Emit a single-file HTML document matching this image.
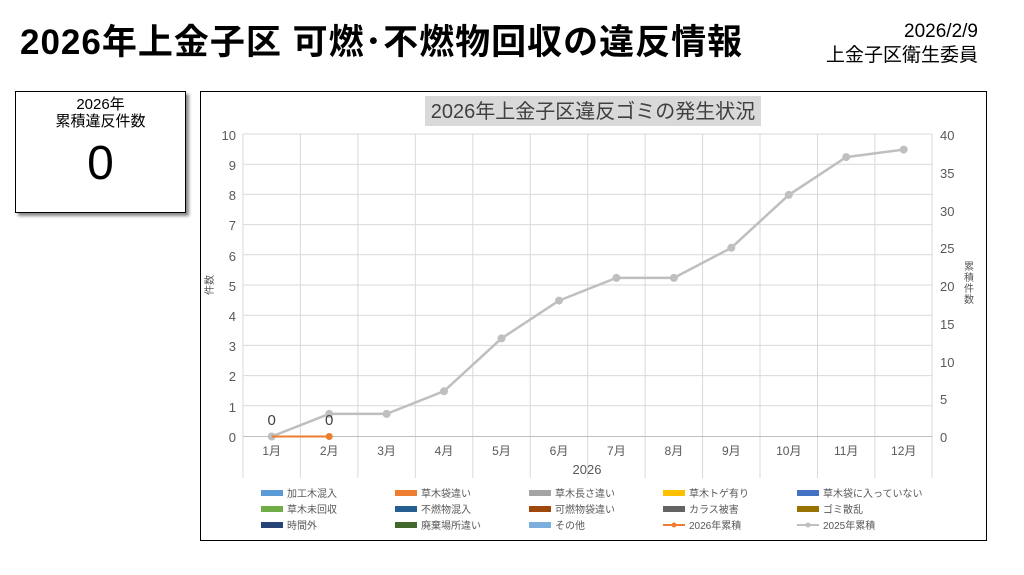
<!DOCTYPE html>
<html><head><meta charset="utf-8"><style>
body{margin:0;width:1024px;height:575px;background:#fff;font-family:"Liberation Sans","Noto Sans CJK JP",sans-serif;position:relative;overflow:hidden}
.t{position:absolute;left:20px;top:14px;font-size:35px;font-weight:bold;color:#000;letter-spacing:1px}
.d{position:absolute;right:46px;top:20px;font-size:19px;text-align:right;line-height:24px;color:#000}
.box{position:absolute;left:15px;top:91px;width:169px;height:120px;border:1px solid #000;box-shadow:3px 3px 3px #888;text-align:center;background:#fff}
</style></head><body>
<div class="t">2026年上金子区 可燃･不燃物回収の違反情報</div>
<div class="d">2026/2/9<br>上金子区衛生委員</div>
<div class="box"><div style="font-size:15px;line-height:17px;margin-top:4px">2026年<br>累積違反件数</div><div style="font-size:48px;margin-top:6px">0</div></div>
<svg style="position:absolute;left:0;top:0" width="1024" height="575" font-family="Liberation Sans, Noto Sans CJK JP, sans-serif">
<rect x="200.5" y="91.5" width="786" height="449" fill="#fff" stroke="#000"/>
<rect x="425" y="96" width="336" height="30" fill="#d9d9d9"/>
<text x="593" y="118" font-size="20" fill="#404040" text-anchor="middle">2026年上金子区違反ゴミの発生状況</text>
<g stroke="#d9d9d9" stroke-width="1">
<line x1="243" y1="134" x2="932" y2="134"/><line x1="243" y1="164.2" x2="932" y2="164.2"/><line x1="243" y1="194.4" x2="932" y2="194.4"/><line x1="243" y1="224.6" x2="932" y2="224.6"/><line x1="243" y1="254.8" x2="932" y2="254.8"/><line x1="243" y1="285" x2="932" y2="285"/><line x1="243" y1="315.2" x2="932" y2="315.2"/><line x1="243" y1="345.4" x2="932" y2="345.4"/><line x1="243" y1="375.6" x2="932" y2="375.6"/><line x1="243" y1="405.8" x2="932" y2="405.8"/>
<line x1="243" y1="134" x2="243" y2="478"/><line x1="300.4" y1="134" x2="300.4" y2="478"/><line x1="357.9" y1="134" x2="357.9" y2="478"/><line x1="415.3" y1="134" x2="415.3" y2="478"/><line x1="472.8" y1="134" x2="472.8" y2="478"/><line x1="530.2" y1="134" x2="530.2" y2="478"/><line x1="587.7" y1="134" x2="587.7" y2="478"/><line x1="645.1" y1="134" x2="645.1" y2="478"/><line x1="702.6" y1="134" x2="702.6" y2="478"/><line x1="760" y1="134" x2="760" y2="478"/><line x1="817.5" y1="134" x2="817.5" y2="478"/><line x1="874.9" y1="134" x2="874.9" y2="478"/><line x1="932" y1="134" x2="932" y2="478"/>
<line x1="243" y1="436.5" x2="932" y2="436.5" stroke="#bfbfbf"/>
</g>
<g font-size="13" fill="#595959" text-anchor="end">
<text x="236" y="140">10</text><text x="236" y="170">9</text><text x="236" y="200">8</text><text x="236" y="230">7</text><text x="236" y="261">6</text><text x="236" y="291">5</text><text x="236" y="321">4</text><text x="236" y="351">3</text><text x="236" y="381">2</text><text x="236" y="412">1</text><text x="236" y="442">0</text>
</g>
<g font-size="13" fill="#595959" text-anchor="start">
<text x="940" y="140">40</text><text x="940" y="178">35</text><text x="940" y="216">30</text><text x="940" y="253">25</text><text x="940" y="291">20</text><text x="940" y="329">15</text><text x="940" y="367">10</text><text x="940" y="404">5</text><text x="940" y="442">0</text>
</g>
<text x="213" y="285" font-size="10" fill="#595959" transform="rotate(-90 213 285)" text-anchor="middle">件数</text>
<g font-size="10" fill="#595959" text-anchor="middle"><text x="969" y="270">累</text><text x="969" y="281">積</text><text x="969" y="292">件</text><text x="969" y="303">数</text></g>
<g font-size="12" fill="#595959" text-anchor="middle">
<text x="271.7" y="455">1月</text><text x="329.2" y="455">2月</text><text x="386.6" y="455">3月</text><text x="444" y="455">4月</text><text x="501.5" y="455">5月</text><text x="559" y="455">6月</text><text x="616.4" y="455">7月</text><text x="673.9" y="455">8月</text><text x="731.3" y="455">9月</text><text x="788.8" y="455">10月</text><text x="846.2" y="455">11月</text><text x="903.7" y="455">12月</text>
<text x="587" y="474" font-size="13">2026</text>
</g>
<polyline fill="none" stroke="#bfbfbf" stroke-width="2.5" points="271.7,436.5 329.2,413.9 386.6,413.9 444,391.2 501.5,338.4 559,300.6 616.4,277.9 673.9,277.9 731.3,247.8 788.8,194.9 846.2,157.1 903.7,149.6"/>
<g fill="#bfbfbf"><circle cx="271.7" cy="436.5" r="4"/><circle cx="329.2" cy="413.9" r="4"/><circle cx="386.6" cy="413.9" r="4"/><circle cx="444" cy="391.2" r="4"/><circle cx="501.5" cy="338.4" r="4"/><circle cx="559" cy="300.6" r="4"/><circle cx="616.4" cy="277.9" r="4"/><circle cx="673.9" cy="277.9" r="4"/><circle cx="731.3" cy="247.8" r="4"/><circle cx="788.8" cy="194.9" r="4"/><circle cx="846.2" cy="157.1" r="4"/><circle cx="903.7" cy="149.6" r="4"/></g>
<line x1="271.7" y1="436.5" x2="329.2" y2="436.5" stroke="#ed7d31" stroke-width="2"/>
<circle cx="329.2" cy="436.5" r="3.5" fill="#ed7d31"/>
<text x="271.7" y="425" font-size="15" fill="#404040" text-anchor="middle">0</text>
<text x="329.2" y="425" font-size="15" fill="#404040" text-anchor="middle">0</text>
<g font-size="10" fill="#595959">
<rect x="261" y="490" width="22" height="6" fill="#5b9bd5"/><text x="287" y="497">加工木混入</text>
<rect x="395" y="490" width="22" height="6" fill="#ed7d31"/><text x="421" y="497">草木袋違い</text>
<rect x="529" y="490" width="22" height="6" fill="#a5a5a5"/><text x="555" y="497">草木長さ違い</text>
<rect x="663" y="490" width="22" height="6" fill="#ffc000"/><text x="689" y="497">草木トゲ有り</text>
<rect x="797" y="490" width="22" height="6" fill="#4472c4"/><text x="823" y="497">草木袋に入っていない</text>
<rect x="261" y="506" width="22" height="6" fill="#70ad47"/><text x="287" y="513">草木未回収</text>
<rect x="395" y="506" width="22" height="6" fill="#255e91"/><text x="421" y="513">不燃物混入</text>
<rect x="529" y="506" width="22" height="6" fill="#9e480e"/><text x="555" y="513">可燃物袋違い</text>
<rect x="663" y="506" width="22" height="6" fill="#636363"/><text x="689" y="513">カラス被害</text>
<rect x="797" y="506" width="22" height="6" fill="#997300"/><text x="823" y="513">ゴミ散乱</text>
<rect x="261" y="522" width="22" height="6" fill="#264478"/><text x="287" y="529">時間外</text>
<rect x="395" y="522" width="22" height="6" fill="#43682b"/><text x="421" y="529">廃棄場所違い</text>
<rect x="529" y="522" width="22" height="6" fill="#7cafdd"/><text x="555" y="529">その他</text>
<line x1="663" y1="525" x2="685" y2="525" stroke="#ed7d31" stroke-width="2"/><circle cx="674" cy="525" r="2.5" fill="#ed7d31"/><text x="689" y="529">2026年累積</text>
<line x1="797" y1="525" x2="819" y2="525" stroke="#bfbfbf" stroke-width="2"/><circle cx="808" cy="525" r="2.5" fill="#bfbfbf"/><text x="823" y="529">2025年累積</text>
</g>
</svg>
</body></html>
